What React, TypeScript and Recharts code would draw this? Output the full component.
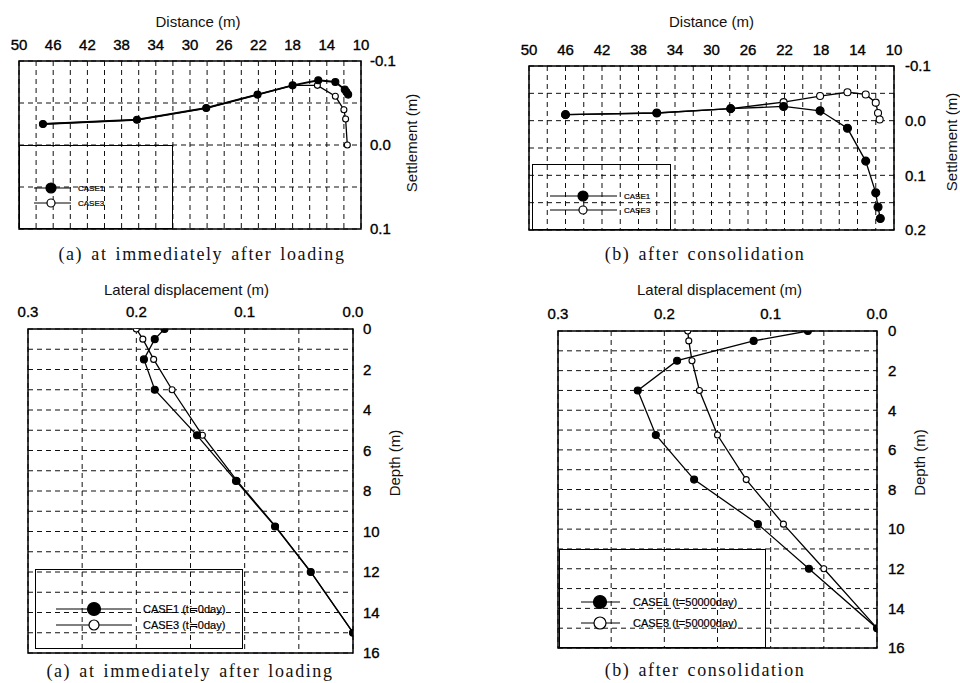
import { CartesianGrid, Legend, Line, LineChart, ReferenceArea, XAxis, YAxis } from "recharts";

// surface settlement, immediately after loading
const settleADist1 = [47.2, 36.2, 28.1, 22.1, 18.0, 15.0, 13.0, 11.9, 11.7, 11.5];
const settleAVal1 = [-0.025, -0.03, -0.044, -0.06, -0.071, -0.077, -0.075, -0.066, -0.063, -0.06];
const settleADist3 = [47.2, 36.2, 28.1, 22.1, 18.0, 15.1, 13.0, 12.0, 11.8, 11.6];
const settleAVal3 = [-0.025, -0.03, -0.044, -0.06, -0.071, -0.071, -0.058, -0.042, -0.031, 0.0];

// surface settlement, after consolidation
const settleBDist1 = [46.0, 36.0, 27.9, 22.1, 18.1, 15.1, 13.1, 12.0, 11.75, 11.5];
const settleBVal1 = [-0.011, -0.014, -0.022, -0.026, -0.018, 0.014, 0.074, 0.132, 0.158, 0.179];
const settleBDist3 = [46.0, 36.0, 27.9, 22.1, 18.1, 15.1, 13.1, 12.0, 11.75, 11.57];
const settleBVal3 = [-0.011, -0.014, -0.022, -0.034, -0.045, -0.052, -0.048, -0.033, -0.014, -0.002];

// lateral displacement profiles
const depths = [0, 0.5, 1.5, 3, 5.25, 7.5, 9.75, 12, 15];
const lateralA1 = [0.174, 0.183, 0.193, 0.183, 0.144, 0.108, 0.072, 0.039, 0.0];
const lateralA3 = [0.2, 0.194, 0.184, 0.167, 0.139, 0.107, 0.0715, 0.039, 0.0];
const lateralB1 = [0.065, 0.116, 0.188, 0.225, 0.208, 0.172, 0.112, 0.064, 0.0];
const lateralB3 = [0.178, 0.177, 0.174, 0.167, 0.15, 0.123, 0.088, 0.05, 0.0];

// axes
const distanceTicks = [50, 48, 46, 44, 42, 40, 38, 36, 34, 32, 30, 28, 26, 24, 22, 20, 18, 16, 14, 12, 10];
const distanceLabels = [50, 46, 42, 38, 34, 30, 26, 22, 18, 14, 10];
const settleATicks = [-0.1, -0.05, 0, 0.05, 0.1];
const settleBTicks = [-0.1, -0.05, 0, 0.05, 0.1, 0.15, 0.2];
const settleLabels = [-0.1, 0, 0.1, 0.2];
const lateralTicks = [0.3, 0.25, 0.2, 0.15, 0.1, 0.05, 0];
const lateralLabels = [0.3, 0.2, 0.1, 0];
const depthTicks = [0, 1, 2, 3, 4, 5, 6, 7, 8, 9, 10, 11, 12, 13, 14, 15, 16];
const depthLabels = [0, 2, 4, 6, 8, 10, 12, 14, 16];

const FONT = '"Liberation Sans", Arial, sans-serif';
const AXIS_H = 52;
const AXIS_W = 62;

type Pt = { x: number; y: number };
type Series = { name: string; data: Pt[]; filled: boolean; r: number; width: number };
type Box = { x1: number; y1: number; x2: number; y2: number };
type Frame = { left: number; top: number; width: number; height: number };
type LegendSpec = {
  x: number; y: number; w: number; h: number; rows: number[];
  lineX: [number, number]; markX: number; textX: number; font: number; rFilled: number; rOpen: number;
};

const toPts = (xs: number[], ys: number[]) => xs.map((x, i) => ({ x, y: ys[i] }));

type PanelProps = {
  frame: Frame; box: Box;
  xDomain: [number, number]; xTicks: number[]; xLabels: number[]; xDigits: number; xTitle: string;
  xTitleY: number; xTitleDx: number; xTickY: number;
  yDomain: [number, number]; yTicks: number[]; yLabels: number[]; yDigits: number; yTitle: string;
  yTitleX: number; yTitleDy: number; yTickGap: number;
  series: Series[]; legend: LegendSpec;
};

function LegendBox({ spec, payload, series }: { spec: LegendSpec; payload: any[]; series: Series[] }) {
  const items = [...(payload || [])].sort((a, b) => String(a.value).localeCompare(String(b.value)));
  return (
    <svg width={spec.w - 2} height={spec.h - 2} style={{ display: "block" }}>
      {items.map((it, i) => {
        const s = series.find((d) => d.name === it.value);
        const cy = spec.rows[i] - spec.y - 1;
        const filled = s ? s.filled : i === 0;
        return (
          <g key={String(it.value)}>
            <line x1={spec.lineX[0] - spec.x} x2={spec.lineX[1] - spec.x} y1={cy} y2={cy} stroke="#000" strokeWidth={1} />
            <circle cx={spec.markX - spec.x} cy={cy} r={filled ? spec.rFilled : spec.rOpen} fill={filled ? "#000" : "#fff"} stroke="#000" strokeWidth={1.2} />
            <text x={spec.textX - spec.x} y={cy} dominantBaseline="central" fontSize={spec.font} fontFamily={FONT} fill="#000" stroke="#000" strokeWidth={0.2}>
              {String(it.value)}
            </text>
          </g>
        );
      })}
    </svg>
  );
}

function Panel(p: PanelProps) {
  const { frame, box, legend } = p;
  const margin = {
    left: box.x1 - frame.left,
    top: box.y1 - frame.top - AXIS_H,
    right: frame.left + frame.width - box.x2 - AXIS_W,
    bottom: frame.top + frame.height - box.y2,
  };
  const tickStyle = { fontSize: 15, fill: "#000", stroke: "#000", strokeWidth: 0.35, fontFamily: FONT };
  const titleStyle = { fontSize: 15, fill: "#111", fontFamily: FONT };
  return (
    <div style={{ position: "absolute", left: frame.left, top: frame.top }}>
      <LineChart width={frame.width} height={frame.height} margin={margin}>
        <CartesianGrid stroke="#111" strokeDasharray="5 4" strokeWidth={1} />
        <XAxis
          type="number"
          dataKey="x"
          orientation="top"
          domain={p.xDomain}
          reversed
          allowDataOverflow
          ticks={p.xTicks}
          interval={0}
          tickFormatter={(v: number) => (p.xLabels.includes(v) ? v.toFixed(p.xDigits) : "")}
          tickLine={false}
          axisLine={false}
          tickSize={0}
          tickMargin={box.y1 - p.xTickY - 5}
          height={AXIS_H}
          tick={tickStyle}
          label={{
            value: p.xTitle,
            position: "insideTop",
            offset: p.xTitleY - 5 - (box.y1 - AXIS_H),
            dx: p.xTitleDx,
            style: titleStyle,
          }}
        />
        <YAxis
          type="number"
          orientation="right"
          domain={p.yDomain}
          reversed
          allowDataOverflow
          ticks={p.yTicks}
          interval={0}
          tickFormatter={(v: number) => (p.yLabels.includes(v) ? v.toFixed(p.yDigits) : "")}
          tickLine={false}
          axisLine={false}
          tickSize={0}
          tickMargin={p.yTickGap}
          width={AXIS_W}
          tick={tickStyle}
          label={{
            value: p.yTitle,
            angle: -90,
            position: "insideRight",
            offset: AXIS_W - (p.yTitleX - box.x2),
            dy: p.yTitleDy,
            style: { ...titleStyle, textAnchor: "middle" },
          }}
        />
        <ReferenceArea
          x1={p.xDomain[0]}
          x2={p.xDomain[1]}
          y1={p.yDomain[0]}
          y2={p.yDomain[1]}
          fill="none"
          stroke="#000"
          strokeWidth={1.5}
          ifOverflow="visible"
        />
        {p.series.map((s) => (
          <Line
            key={s.name}
            name={s.name}
            data={s.data}
            dataKey="y"
            type="linear"
            stroke="#000"
            strokeWidth={s.width}
            dot={{ r: s.r, fill: s.filled ? "#000" : "#fff", stroke: "#000", strokeWidth: 1.1 }}
            activeDot={false}
            isAnimationActive={false}
          />
        ))}
        <Legend
          layout="vertical"
          align="center"
          verticalAlign="middle"
          width={legend.w}
          height={legend.h}
          wrapperStyle={{
            left: legend.x - frame.left,
            top: legend.y - frame.top,
            width: legend.w,
            height: legend.h,
            border: "1.3px solid #000",
            boxSizing: "border-box",
            margin: 0,
            padding: 0,
          }}
          content={(props: any) => <LegendBox spec={legend} payload={props.payload} series={p.series} />}
        />
      </LineChart>
    </div>
  );
}

const captions = [
  { text: "(a) at immediately after loading", cx: 202, cy: 254 },
  { text: "(b) after consolidation", cx: 705, cy: 254 },
  { text: "(a) at immediately after loading", cx: 190, cy: 671 },
  { text: "(b) after consolidation", cx: 705, cy: 670 },
];

export default function App() {
  return (
    <div style={{ position: "absolute", left: 0, top: 0, width: 960, height: 683, background: "#fff", overflow: "hidden" }}>
      <Panel
        frame={{ left: 0, top: 0, width: 440, height: 240 }}
        box={{ x1: 19, y1: 61, x2: 361, y2: 229 }}
        xDomain={[10, 50]} xTicks={distanceTicks} xLabels={distanceLabels} xDigits={0} xTitle="Distance (m)"
        xTitleY={21} xTitleDx={8} xTickY={45}
        yDomain={[-0.1, 0.1]} yTicks={settleATicks} yLabels={settleLabels} yDigits={1} yTitle="Settlement (m)"
        yTitleX={412} yTitleDy={-2} yTickGap={9}
        series={[
          { name: "CASE3", data: toPts(settleADist3, settleAVal3), filled: false, r: 3, width: 1.3 },
          { name: "CASE1", data: toPts(settleADist1, settleAVal1), filled: true, r: 3.5, width: 1.9 },
        ]}
        legend={{ x: 19, y: 145, w: 154, h: 84, rows: [188, 203], lineX: [33, 70], markX: 50, textX: 77, font: 8, rFilled: 5, rOpen: 4 }}
      />
      <Panel
        frame={{ left: 470, top: 0, width: 490, height: 240 }}
        box={{ x1: 529, y1: 66, x2: 894, y2: 230 }}
        xDomain={[10, 50]} xTicks={distanceTicks} xLabels={distanceLabels} xDigits={0} xTitle="Distance (m)"
        xTitleY={21} xTitleDx={0} xTickY={50}
        yDomain={[-0.1, 0.2]} yTicks={settleBTicks} yLabels={settleLabels} yDigits={1} yTitle="Settlement (m)"
        yTitleX={952} yTitleDy={-6} yTickGap={11}
        series={[
          { name: "CASE3", data: toPts(settleBDist3, settleBVal3), filled: false, r: 3.5, width: 1.3 },
          { name: "CASE1", data: toPts(settleBDist1, settleBVal1), filled: true, r: 4, width: 1.3 },
        ]}
        legend={{ x: 532, y: 164, w: 139, h: 66, rows: [196, 210], lineX: [549, 616], markX: 582, textX: 623, font: 8, rFilled: 5, rOpen: 4 }}
      />
      <Panel
        frame={{ left: 0, top: 270, width: 440, height: 400 }}
        box={{ x1: 28, y1: 329, x2: 353, y2: 653 }}
        xDomain={[0, 0.3]} xTicks={lateralTicks} xLabels={lateralLabels} xDigits={1} xTitle="Lateral displacement (m)"
        xTitleY={289} xTitleDx={-4} xTickY={312}
        yDomain={[0, 16]} yTicks={depthTicks} yLabels={depthLabels} yDigits={0} yTitle="Depth (m)"
        yTitleX={395} yTitleDy={-28} yTickGap={10}
        series={[
          { name: "CASE3 (t≒0day)", data: toPts(lateralA3, depths), filled: false, r: 3, width: 1.3 },
          { name: "CASE1 (t≒0day)", data: toPts(lateralA1, depths), filled: true, r: 3.5, width: 1.3 },
        ]}
        legend={{ x: 35, y: 569, w: 208, h: 80, rows: [609, 625], lineX: [55, 131], markX: 93, textX: 142, font: 11, rFilled: 6.5, rOpen: 5 }}
      />
      <Panel
        frame={{ left: 470, top: 270, width: 490, height: 400 }}
        box={{ x1: 558, y1: 331, x2: 877, y2: 648 }}
        xDomain={[0, 0.3]} xTicks={lateralTicks} xLabels={lateralLabels} xDigits={1} xTitle="Lateral displacement (m)"
        xTitleY={289} xTitleDx={2} xTickY={314}
        yDomain={[0, 16]} yTicks={depthTicks} yLabels={depthLabels} yDigits={0} yTitle="Depth (m)"
        yTitleX={920} yTitleDy={-27} yTickGap={11}
        series={[
          { name: "CASE3 (t=50000day)", data: toPts(lateralB3, depths), filled: false, r: 3, width: 1.3 },
          { name: "CASE1 (t=50000day)", data: toPts(lateralB1, depths), filled: true, r: 3.5, width: 1.3 },
        ]}
        legend={{ x: 559, y: 549, w: 207, h: 99, rows: [602, 623], lineX: [580, 619], markX: 599, textX: 632, font: 11, rFilled: 6.5, rOpen: 6 }}
      />
      {captions.map((c, i) => (
        <div
          key={i}
          style={{
            position: "absolute",
            left: c.cx - 200,
            top: c.cy - 11,
            width: 400,
            lineHeight: "22px",
            textAlign: "center",
            fontFamily: '"Liberation Serif", "DejaVu Serif", serif',
            fontSize: 18,
            letterSpacing: 1.6,
            wordSpacing: 2,
            color: "#111",
          }}
        >
          {c.text}
        </div>
      ))}
    </div>
  );
}
